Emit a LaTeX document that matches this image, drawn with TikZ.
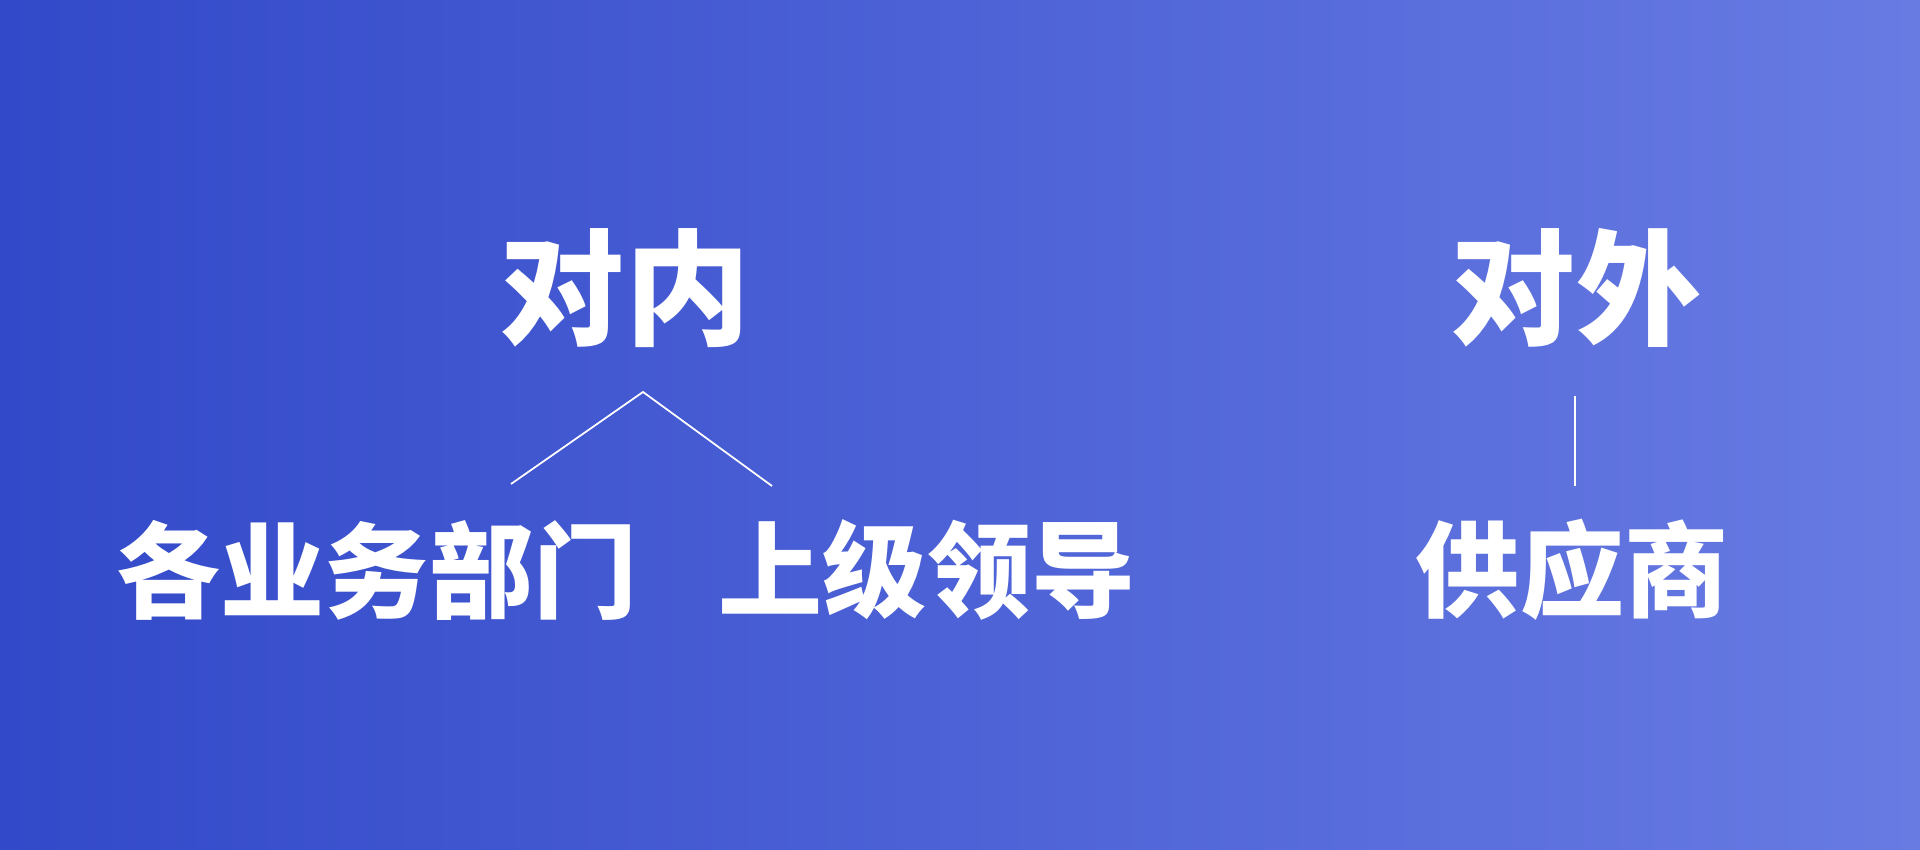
\documentclass[tikz,border=0pt]{standalone}
\usepackage{fontspec}
\newfontfamily\cjk{Noto Sans CJK SC}
\usepackage{tikz}
\usetikzlibrary{calc}
\definecolor{bgleft}{HTML}{3249C9}
\definecolor{bgright}{HTML}{687BE3}
\tikzset{>=latex}
\tikzset{
  head/.style={text=white,font=\cjk\bfseries\fontsize{35.6}{40}\selectfont,inner sep=0pt},
  leaf/.style={text=white,font=\cjk\bfseries\fontsize{29.6}{34}\selectfont,inner sep=0pt},
  branch/.style={draw=white,line width=0.5pt}
}

\begin{document}
\begin{tikzpicture}
            \shade[left color=bgleft,right color=bgright] (0,0) rectangle (19.2,8.5);
            \useasboundingbox (0,0) rectangle (19.2,8.5);
            \node[head] (inner) at (6.25,5.62) {对内};
            \node[head] (outer) at (15.76,5.62) {对外};
            \node[leaf] (depts) at (3.77,2.80) {各业务部门};
            \node[leaf] (leaders) at (9.27,2.80) {上级领导};
            \node[leaf] (suppliers) at (15.72,2.80) {供应商};
            \coordinate (innertip) at (6.43,4.58);
            \coordinate (deptsend) at (5.11,3.66);
            \coordinate (leadersend) at (7.72,3.64);
            \coordinate (outertip) at (15.75,4.54);
            \coordinate (suppliersend) at (15.75,3.64);
            \draw[branch] (deptsend) -- (innertip) -- (leadersend);
            \draw[branch] (outertip) -- (suppliersend);
        \end{tikzpicture}
\end{document}
